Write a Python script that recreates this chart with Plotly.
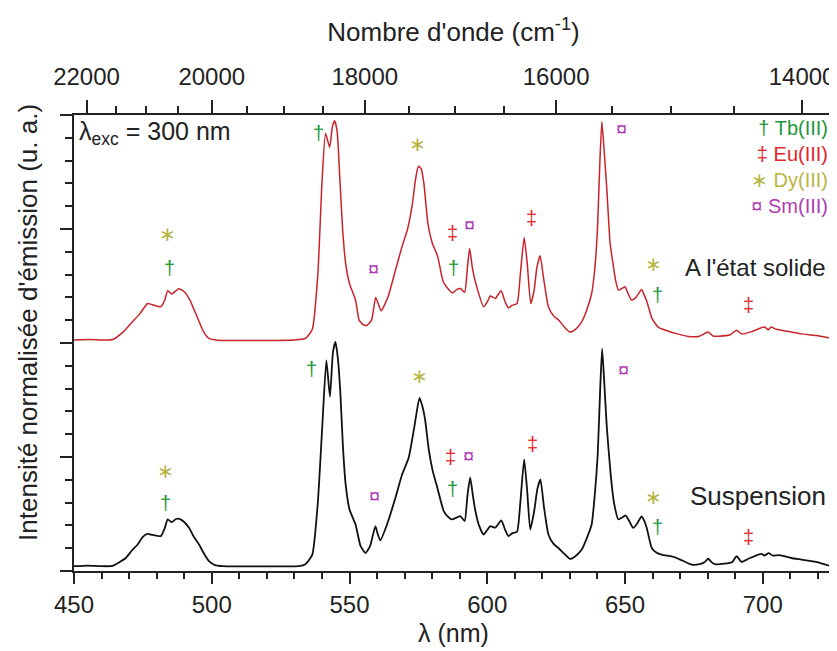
import plotly.graph_objects as go

# emission spectra: wavelength (nm) and normalised intensity (solid is offset by +1)
solid_nm = [450, 456, 460, 464, 468, 471, 474, 476.7, 478.5, 481.5, 483, 484, 485.5, 488, 490, 492,
            494.5, 497, 499, 502, 510, 520, 530, 534, 536.5, 538.5, 540, 541.3, 542.8, 543.8, 544.6,
            545.5, 546.5, 547.5, 548.6, 550, 552.2, 553.5, 555, 556.4, 558, 559.5, 560.5, 561.5, 564,
            566.7, 569, 571, 572.7, 574, 575, 576, 577, 578.5, 580, 582, 584, 586, 587.5, 589, 590.3,
            591.8, 592.8, 593.6, 594.6, 596, 598.7, 600, 601.1, 602.9, 605, 606.5, 607.7, 609, 610.8,
            612, 613.4, 614.5, 615.8, 617, 618, 619.2, 620.5, 622.2, 624, 626, 628, 630, 632, 634.3,
            636, 637.9, 639, 640, 640.9, 641.6, 642.4, 643.4, 644.6, 645.5, 646.5, 647.6, 649, 650,
            651, 652.4, 654, 656, 657, 658, 659.7, 662, 665, 669, 673, 677, 680.2, 682, 684, 688,
            690.5, 692.3, 696, 699, 700.7, 702, 703, 705, 710.4, 714, 717.6, 721, 725.5]
solid_int = [1.013, 1.015, 1.013, 1.015, 1.05, 1.09, 1.13, 1.173, 1.168, 1.159, 1.19, 1.229, 1.215,
             1.238, 1.225, 1.19, 1.12, 1.05, 1.02, 1.012, 1.011, 1.011, 1.013, 1.02, 1.06, 1.3, 1.7,
             1.92, 1.858, 1.95, 1.975, 1.93, 1.72, 1.5, 1.349, 1.26, 1.188, 1.10, 1.08, 1.078, 1.10,
             1.20, 1.17, 1.141, 1.203, 1.32, 1.42, 1.496, 1.60, 1.72, 1.775, 1.765, 1.70, 1.52, 1.44,
             1.38, 1.27, 1.235, 1.22, 1.235, 1.239, 1.222, 1.33, 1.415, 1.33, 1.255, 1.159, 1.18,
             1.206, 1.195, 1.229, 1.18, 1.154, 1.165, 1.173, 1.30, 1.463, 1.35, 1.173, 1.23, 1.33,
             1.383, 1.28, 1.159, 1.12, 1.10, 1.07, 1.048, 1.06, 1.093, 1.14, 1.217, 1.32, 1.50, 1.80,
             1.97, 1.85, 1.674, 1.437, 1.36, 1.28, 1.232, 1.24, 1.247, 1.22, 1.188, 1.20, 1.235, 1.21,
             1.18, 1.11, 1.07, 1.055, 1.04, 1.029, 1.03, 1.048, 1.03, 1.03, 1.035, 1.056, 1.04, 1.05,
             1.065, 1.07, 1.058, 1.07, 1.06, 1.048, 1.04, 1.035, 1.03, 1.019]

susp_nm = [450, 455, 460, 464, 466, 468.8, 471, 473.1, 475, 476.7, 478.5, 481.5, 483, 484, 485.5, 487,
           488.2, 490, 491.8, 493.5, 495.4, 497, 499, 501, 504, 515, 525, 531.6, 534, 536.5, 538.5,
           540.1, 541.6, 542.9, 544, 544.9, 545.8, 546.7, 547.6, 548.6, 550, 552.2, 554, 555.8, 557.5,
           559.4, 560.3, 561.2, 563.5, 566.7, 569, 571.5, 573.5, 575.4, 576.5, 577.5, 578.8, 580.2,
           582, 584.2, 586, 587.2, 589, 590.2, 591.8, 592.8, 593.8, 594.8, 595.7, 597, 598.7, 600,
           601.1, 602.9, 605.1, 606.5, 607.7, 609, 610.8, 612, 613.4, 614.5, 615.6, 617, 618.2, 619.3,
           620.6, 622.2, 624, 625.8, 628, 630, 632, 634.3, 636, 637.9, 639, 640.1, 641, 641.7, 642.5,
           643.4, 644.8, 646, 647.6, 649, 650.2, 651.5, 653, 654.5, 656, 657, 657.9, 659.7, 661.5,
           663.3, 668.1, 671, 674.2, 677, 679, 680.2, 681.3, 682.6, 686, 689, 690.5, 692.3, 695,
           699.5, 700.6, 702.2, 703.5, 706, 710.4, 714, 717.6, 721, 724.3, 725.5]
susp_int = [0.021, 0.024, 0.021, 0.022, 0.035, 0.057, 0.09, 0.116, 0.15, 0.163, 0.158, 0.153, 0.19,
            0.226, 0.214, 0.228, 0.229, 0.215, 0.189, 0.15, 0.116, 0.08, 0.043, 0.027, 0.021, 0.02,
            0.02, 0.021, 0.03, 0.072, 0.3, 0.63, 0.924, 0.765, 0.96, 1.005, 0.93, 0.777, 0.55, 0.38,
            0.27, 0.204, 0.11, 0.079, 0.11, 0.197, 0.16, 0.134, 0.2, 0.322, 0.42, 0.498, 0.63, 0.759,
            0.72, 0.659, 0.53, 0.439, 0.36, 0.263, 0.235, 0.226, 0.235, 0.241, 0.219, 0.33, 0.41,
            0.33, 0.263, 0.2, 0.16, 0.18, 0.197, 0.19, 0.222, 0.18, 0.153, 0.165, 0.172, 0.3, 0.49,
            0.35, 0.182, 0.26, 0.36, 0.402, 0.28, 0.16, 0.12, 0.101, 0.075, 0.053, 0.065, 0.094, 0.14,
            0.204, 0.33, 0.512, 0.80, 0.975, 0.82, 0.63, 0.424, 0.3, 0.226, 0.235, 0.244, 0.22, 0.189,
            0.21, 0.24, 0.22, 0.189, 0.101, 0.08, 0.072, 0.06, 0.045, 0.028, 0.03, 0.04, 0.054, 0.04,
            0.03, 0.032, 0.04, 0.065, 0.04, 0.055, 0.075, 0.068, 0.078, 0.068, 0.07, 0.057, 0.05,
            0.043, 0.035, 0.023, 0.022]

# ion assignment marks: (ion, wavelength nm, height)
ions = ["Tb(III)", "Eu(III)", "Dy(III)", "Sm(III)"]
ion_symbol = {"Tb(III)": "†", "Eu(III)": "‡", "Dy(III)": "∗", "Sm(III)": "¤"}
ion_color = {"Tb(III)": "#22973a", "Eu(III)": "#e3262b", "Dy(III)": "#b8b545", "Sm(III)": "#b03cb4"}

solid_marks = [("Dy(III)", 484, 1.48), ("Tb(III)", 484.5, 1.327), ("Tb(III)", 538.9, 1.922),
               ("Sm(III)", 558.8, 1.323), ("Dy(III)", 574.5, 1.875), ("Eu(III)", 587.4, 1.482),
               ("Tb(III)", 587.8, 1.327), ("Sm(III)", 593.5, 1.518), ("Eu(III)", 616.2, 1.548),
               ("Sm(III)", 648.8, 1.937), ("Dy(III)", 660.3, 1.345), ("Tb(III)", 661.7, 1.212),
               ("Eu(III)", 695, 1.168)]
susp_marks = [("Dy(III)", 483.3, 0.44), ("Tb(III)", 483.3, 0.30), ("Tb(III)", 536.1, 0.887),
              ("Sm(III)", 559.2, 0.329), ("Dy(III)", 575.4, 0.855), ("Eu(III)", 586.6, 0.501),
              ("Tb(III)", 587.4, 0.358), ("Sm(III)", 593.2, 0.505), ("Eu(III)", 616.4, 0.559),
              ("Sm(III)", 649.4, 0.880), ("Dy(III)", 660.3, 0.325), ("Tb(III)", 661.7, 0.192),
              ("Eu(III)", 695, 0.148)]

wn_major = [22000, 20000, 18000, 16000, 14000]
wn_minor = [21500, 21000, 20500, 19500, 19000, 18500, 17500, 17000, 16500, 15500, 15000, 14500]

FONT = "Liberation Sans, Arial, sans-serif"
x_range = [450, 725.5]

fig = go.Figure()
fig.add_trace(go.Scatter(x=solid_nm, y=solid_int, mode="lines", line=dict(color="#c8232b", width=1.5, shape="spline", smoothing=0.5),
                         showlegend=False, hoverinfo="skip"))
fig.add_trace(go.Scatter(x=susp_nm, y=susp_int, mode="lines", line=dict(color="#111111", width=1.8, shape="spline", smoothing=0.5),
                         showlegend=False, hoverinfo="skip"))
# dummy trace so the top (wavenumber) axis is drawn
fig.add_trace(go.Scatter(x=[x_range[0]], y=[None], xaxis="x2", showlegend=False, hoverinfo="skip"))

for ion, x, y in solid_marks + susp_marks:
    fig.add_annotation(x=x, y=y, text=ion_symbol[ion], showarrow=False, xanchor="center", yanchor="middle",
                       font=dict(family=FONT, size=20, color=ion_color[ion]))

legend_txt = "<br>".join(f'<span style="color:{ion_color[i]}">{ion_symbol[i]} {i}</span>' for i in ions)
fig.add_annotation(xref="paper", yref="paper", x=0.996, y=1.0, xanchor="right", yanchor="top",
                   text=legend_txt, showarrow=False, align="right", font=dict(family=FONT, size=20))

fig.add_annotation(xref="paper", yref="paper", x=0.004, y=1.0, xanchor="left", yanchor="top",
                   text="λ<sub>exc</sub> = 300 nm", showarrow=False, font=dict(family=FONT, size=25, color="#222"))
fig.add_annotation(xref="paper", x=0.993, y=1.33, xanchor="right", yanchor="middle", text="A l'état solide",
                   showarrow=False, font=dict(family=FONT, size=24, color="#222"))
fig.add_annotation(xref="paper", x=0.993, y=0.33, xanchor="right", yanchor="middle", text="Suspension",
                   showarrow=False, font=dict(family=FONT, size=26, color="#222"))
fig.add_annotation(xref="paper", yref="paper", x=-0.06, y=0.545, textangle=-90, xanchor="center", yanchor="middle",
                   text="Intensité normalisée d'émission (u. a.)", showarrow=False,
                   font=dict(family=FONT, size=26, color="#222"))

fig.update_layout(
    width=837, height=651, margin=dict(l=66, r=10, t=107, b=88),
    plot_bgcolor="white", paper_bgcolor="white",
    font=dict(family=FONT, size=24, color="#222"),
    xaxis=dict(range=x_range, tickvals=list(range(450, 701, 50)), ticks="outside", ticklen=11, tickwidth=1.5,
               tickcolor="#222", showline=True, linecolor="#222", linewidth=1.5, showgrid=False, zeroline=False,
               minor=dict(dtick=10, tick0=450, ticks="outside", ticklen=6, tickwidth=1.5, tickcolor="#222"),
               title=dict(text="λ (nm)", font=dict(size=25), standoff=8)),
    xaxis2=dict(overlaying="x", side="top", range=x_range, tickvals=[1e7 / w for w in wn_major],
                ticktext=[str(w) for w in wn_major], ticks="outside", ticklen=13, tickwidth=1.5, tickcolor="#222",
                ticklabelstandoff=6,
                showline=True, linecolor="#222", linewidth=1.5, showgrid=False, zeroline=False,
                minor=dict(tickvals=[1e7 / w for w in wn_minor], ticks="outside", ticklen=7, tickwidth=1.5, tickcolor="#222"),
                title=dict(text="Nombre d'onde (cm<sup>-1</sup>)", font=dict(size=26), standoff=14)),
    yaxis=dict(range=[0, 2], dtick=0.5, tick0=0, showticklabels=False, ticks="outside", ticklen=12, tickwidth=1.5,
               tickcolor="#222", showline=True, mirror=True, linecolor="#222", linewidth=1.5, showgrid=False,
               zeroline=False, minor=dict(dtick=0.1, ticks="outside", ticklen=7, tickwidth=1.5, tickcolor="#222")),
)

fig.write_html("out.html")
